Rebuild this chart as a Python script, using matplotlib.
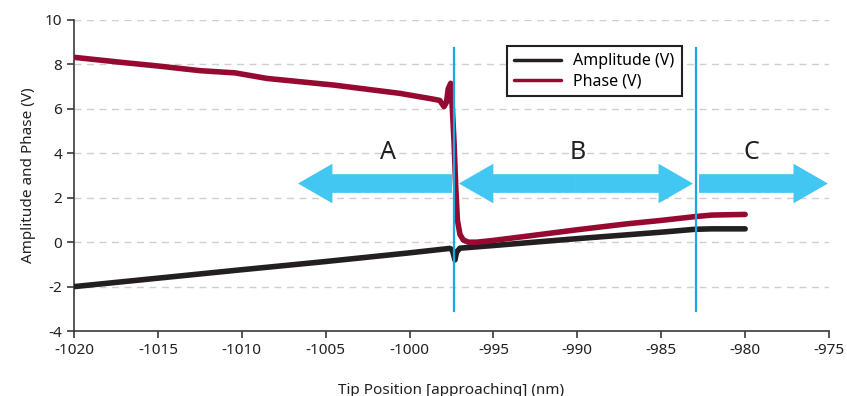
import numpy as np
import matplotlib.pyplot as plt
from matplotlib.patches import FancyArrow

plt.rcParams['font.family'] = ['Noto Sans', 'DejaVu Sans']
plt.rcParams['axes.unicode_minus'] = False

# amplitude trace
amp_x = [-1020, -1015, -1010, -1005, -1000, -997.6, -997.45, -997.3, -997.2, -997.0,
         -995, -990, -985, -983, -982, -980]
amp_y = [-2.0, -1.62, -1.24, -0.87, -0.48, -0.28, -0.35, -0.8, -0.45, -0.27,
         -0.15, 0.16, 0.45, 0.58, 0.6, 0.6]

# phase trace
ph_x = [-1020, -1017, -1015, -1012.5, -1010.4, -1008.5, -1006.5, -1004.5, -1002.5, -1000.6,
        -998.6, -998.2, -997.95, -997.8, -997.7, -997.55, -997.45, -997.35, -997.25, -997.15,
        -997.0, -996.8, -996.5, -996.0, -995, -993, -990, -987, -985, -983, -982, -980]
ph_y = [8.32, 8.08, 7.93, 7.72, 7.62, 7.37, 7.22, 7.07, 6.88, 6.7,
        6.44, 6.38, 6.1, 6.3, 6.9, 7.15, 6.0, 4.5, 2.5, 1.0,
        0.35, 0.1, 0.0, 0.0, 0.08, 0.27, 0.56, 0.83, 0.98, 1.15, 1.22, 1.25]

boundaries = [-997.35, -982.93]
region_labels = ['A', 'B', 'C']
label_x = [-1001.3, -990.0, -979.6]

fig = plt.figure(figsize=(8.47, 3.96), dpi=100)
ax = fig.add_axes([0.0874, 0.164, 0.8914, 0.7855])

ax.set_xlim(-1020, -975)
ax.set_ylim(-4, 10)
ax.set_xticks(np.arange(-1020, -974, 5))
ax.set_yticks(np.arange(-4, 11, 2))

for y in range(-2, 11, 2):
    ax.axhline(y, color="#cfcfcf", lw=1, ls=(0, (5, 4)), zorder=0)

ax.plot(amp_x, amp_y, color="#231f20", lw=4, label="Amplitude (V)", zorder=3,
        solid_capstyle="round")
ax.plot(ph_x, ph_y, color="#960a32", lw=4, label="Phase (V)", zorder=4,
        solid_capstyle="round")

for b in boundaries:
    ax.plot([b, b], [8.75, -3.1], color="#1aa8e0", lw=1.6, zorder=5)

arrow_kw = dict(width=0.84, head_width=1.78, head_length=2.05,
                length_includes_head=True, color="#42c6f2", lw=0, zorder=2)
ya = 2.64
# A: pointing left
ax.add_patch(FancyArrow(-997.47, ya, -1006.65 - (-997.47), 0, **arrow_kw))
# B: double headed
mid = (-997.06 + -983.11) / 2
ax.add_patch(FancyArrow(mid, ya, -997.06 - mid, 0, **arrow_kw))
ax.add_patch(FancyArrow(mid, ya, -983.11 - mid, 0, **arrow_kw))
# C: pointing right
ax.add_patch(FancyArrow(-982.75, ya, -975.07 - (-982.75), 0, clip_on=False, **arrow_kw))

for lx, lab in zip(label_x, region_labels):
    ax.text(lx, 4.05, lab, fontsize=18, ha="center", va="center", color="#231f20")

for s in ["top", "right"]:
    ax.spines[s].set_visible(False)
for s in ["left", "bottom"]:
    ax.spines[s].set_color("#3a3a3a")
    ax.spines[s].set_linewidth(1.2)
ax.tick_params(direction="out", length=5, width=1.2, color="#3a3a3a",
               labelsize=11, labelcolor="#231f20")

ax.set_ylabel("Amplitude and Phase (V)", fontsize=11, color="#231f20", labelpad=6)
ax.set_xlabel("Tip Position [approaching] (nm)", fontsize=11, color="#231f20", labelpad=18)

leg = ax.legend(loc="upper left", bbox_to_anchor=(0.563, 0.942), fontsize=11.5,
                fancybox=False, framealpha=1, edgecolor="#231f20", handlelength=2.9,
                borderpad=0.45, labelspacing=0.25)
leg.get_frame().set_linewidth(1.5)
for line in leg.get_lines():
    line.set_linewidth(2.5)

fig.savefig("out.png", dpi=100)
